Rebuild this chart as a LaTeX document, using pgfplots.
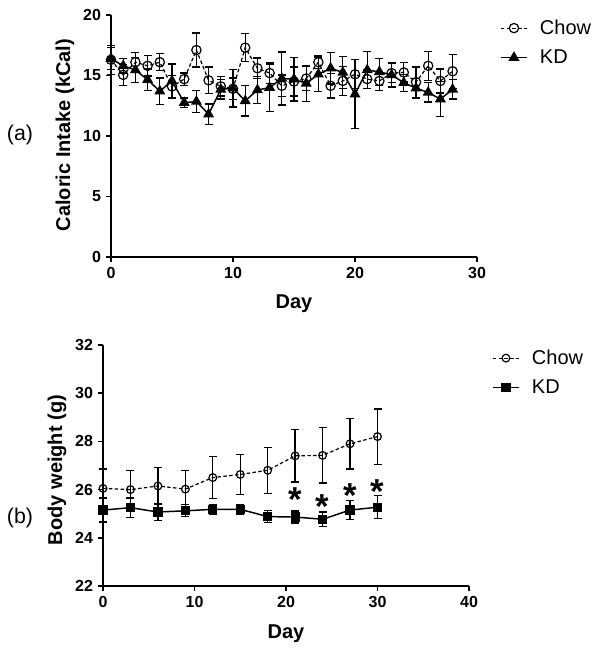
\documentclass[border=0pt]{standalone}
\usepackage{fontspec}
\setmainfont{Liberation Sans}
\usepackage{pgfplots}
\pgfplotsset{compat=1.18}
\usepackage{pgfplotstable}

\pgfplotstableread{
d v e
0 16.3 1.2
1 15.05 0.85
2 16.1 0.8
3 15.8 0.85
4 16.1 0.7
5 14.1 0.9
6 14.7 0.5
7 17.1 1.4
8 14.6 1.1
9 14.1 0.8
10 13.9 0.9
11 17.3 1.15
12 15.6 0.85
13 15.2 0.85
14 14.15 0.9
15 14.5 1.2
16 14.75 1.0
17 16.1 0.5
18 14.15 1.0
19 14.55 1.2
20 15.1 1.2
21 14.7 0.75
22 14.55 0.8
23 15.2 0.8
24 15.25 0.8
25 14.45 1.25
26 15.8 1.2
27 14.55 1.0
28 15.35 1.4
}\topchow

\pgfplotstableread{
d v e
0 16.4 0.9
1 15.8 0.6
2 15.45 1.05
3 14.65 0.9
4 13.7 1.1
5 14.55 1.4
6 12.75 0.4
7 12.85 0.9
8 11.8 0.85
9 13.85 0.8
10 13.95 1.55
11 12.9 1.25
12 13.8 1.1
13 14.0 1.95
14 14.75 2.2
15 14.7 1.8
16 14.35 1.5
17 15.1 1.4
18 15.6 1.3
19 15.25 1.3
20 13.45 2.85
21 15.45 1.55
22 15.3 1.1
23 15.05 1.0
24 14.4 0.7
25 13.95 0.8
26 13.6 0.8
27 13.05 1.45
28 13.85 0.8
}\topkd

\pgfplotstableread{
d v e
0 26.05 0.8
3 26.0 0.78
6 26.15 0.77
9 26.02 0.77
12 26.5 0.86
15 26.63 0.84
18 26.8 0.96
21 27.4 1.08
24 27.42 1.15
27 27.9 1.05
30 28.2 1.15
}\botchow

\pgfplotstableread{
d v e
0 25.15 0.5
3 25.25 0.4
6 25.07 0.35
9 25.12 0.25
12 25.18 0.2
15 25.18 0.2
18 24.88 0.25
21 24.86 0.25
24 24.77 0.3
27 25.15 0.4
30 25.27 0.48
}\botkd

\pgfplotstableread{
d v
21 25.58
24 25.29
27 25.75
30 25.92
}\stars

\pgfplotsset{
  myaxis/.style={
    scale only axis,
    axis lines=left,
    axis line style={line width=1.5pt, -},
    tick style={line width=1.2pt, black},
    major tick length=4pt,
    tick align=outside,
    /pgf/number format/assume math mode=true,
    ticklabel style={font=\fontsize{12}{14}\selectfont\bfseries},
    label style={font=\fontsize{15}{17}\selectfont\bfseries},
    clip=false,
    legend cell align=left,
    legend style={draw=none, fill=none, inner sep=0pt,
      font=\fontsize{15}{17}\selectfont, row sep=6pt,
      /tikz/every odd column/.append style={column sep=7pt},
      at={(axis description cs:1.062,0.992)}, anchor=north west},
    legend image code/.code={\draw[mark repeat=2,mark phase=2,##1] plot coordinates {(0cm,0cm)(0.35cm,0cm)(0.7cm,0cm)};},
  },
  myerr/.style={
    error bars/y dir=both, error bars/y explicit,
    error bars/error bar style={solid, line width=1pt},
    error bars/error mark options={rotate=90, mark size=3pt, line width=1pt, solid}},
  chowstyle/.style={black, line width=0.9pt, dash pattern=on 2.6pt off 1.8pt,
    mark=o, mark options={solid, line width=0.9pt}, myerr},
  kdstyle/.style={black, line width=1.1pt, solid,
    mark options={solid}, myerr},
}

\begin{document}
\begin{tikzpicture}
\useasboundingbox (0,0) rectangle (451.5pt,489pt);

\begin{axis}[myaxis,
  at={(83.25pt,296.25pt)}, anchor=south west,
  width=274.5pt, height=181.5pt,
  xmin=0, xmax=30, ymin=0, ymax=20,
  xtick={0,10,20,30}, ytick={0,5,10,15,20},
  xlabel={Day}, ylabel={Caloric Intake (kCal)},
  xlabel style={at={(axis description cs:0.5,-0.194)}, anchor=center},
  ylabel style={at={(axis description cs:-0.126,0.504)}, anchor=center},
]
\addplot[chowstyle, mark size=3.5pt] table[x=d, y=v, y error=e] {\topchow};
\addlegendentry{Chow}
\addplot[kdstyle, mark=triangle*, mark size=3.7pt] table[x=d, y=v, y error=e] {\topkd};
\addlegendentry{KD}
\end{axis}

\begin{axis}[myaxis,
  at={(77.25pt,49.5pt)}, anchor=south west,
  width=274.5pt, height=180.75pt,
  xmin=0, xmax=40, ymin=22, ymax=32,
  xtick={0,10,20,30,40}, ytick={22,24,26,28,30,32},
  xlabel={Day}, ylabel={Body weight (g)},
  xlabel style={at={(axis description cs:0.5,-0.199)}, anchor=center},
  ylabel style={at={(axis description cs:-0.126,0.481)}, anchor=center},
]
\addplot[chowstyle, mark size=2.9pt] table[x=d, y=v, y error=e] {\botchow};
\addlegendentry{Chow}
\addplot[kdstyle, mark=square*, mark size=2.9pt] table[x=d, y=v, y error=e] {\botkd};
\addlegendentry{KD}
\addplot[only marks, mark=none, forget plot,
  nodes near coords={*},
  every node near coord/.style={anchor=center, font=\fontsize{26}{26}\selectfont\bfseries, inner sep=0pt}]
  table[x=d, y=v] {\stars};
\end{axis}

\node[font=\fontsize{16}{18}\selectfont] at (15pt,387.75pt) {(a)};
\node[font=\fontsize{16}{18}\selectfont] at (15pt,100.5pt) {(b)};
\end{tikzpicture}
\end{document}
